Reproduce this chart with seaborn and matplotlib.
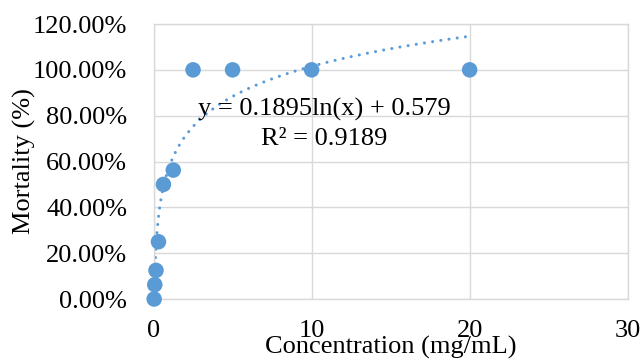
import numpy as np
import pandas as pd
import matplotlib
matplotlib.use("Agg")
import matplotlib.pyplot as plt
from matplotlib.ticker import PercentFormatter
import seaborn as sns

concentration = [0.039, 0.078, 0.156, 0.3125, 0.625, 1.25, 2.5, 5, 10, 20]
mortality = [0.0, 0.0625, 0.125, 0.25, 0.5, 0.5625, 1.0, 1.0, 1.0, 1.0]
trend_slope = 0.1895
trend_intercept = 0.579
r_squared = 0.9189
x_ticks = [0, 10, 20, 30]
y_ticks = [0, 0.2, 0.4, 0.6, 0.8, 1.0, 1.2]

df = pd.DataFrame({"Concentration": concentration, "Mortality": mortality})

# log trendline from the equation shown on the chart
trend_x = np.linspace(min(concentration), max(concentration), 400)
trend = pd.DataFrame({"x": trend_x, "y": trend_slope * np.log(trend_x) + trend_intercept})

sns.set_style("whitegrid", {"grid.color": "#D9D9D9"})
plt.rcParams["font.family"] = ["Liberation Serif", "DejaVu Serif"]
plt.rcParams["text.color"] = "black"
plt.rcParams["axes.labelcolor"] = "black"

fig = plt.figure(figsize=(6.44, 3.6), dpi=100)
ax = fig.add_axes([0.2384, 0.1694, 0.7363, 0.7639])
blue = "#5B9BD5"

sns.lineplot(data=trend, x="x", y="y", ax=ax, color=blue, linewidth=2.2,
             linestyle=(0, (0.01, 2.7)), dash_capstyle="round", zorder=2)
sns.scatterplot(data=df, x="Concentration", y="Mortality", ax=ax, color=blue,
                s=125, edgecolor="none", clip_on=False, zorder=3)

ax.set_xlim(0, 30)
ax.set_ylim(0, 1.2)
ax.set_xticks(x_ticks)
ax.set_yticks(y_ticks)
ax.yaxis.set_major_formatter(PercentFormatter(xmax=1, decimals=2))
ax.grid(True, color="#D9D9D9", linewidth=1.0)
for sp in ax.spines.values():
    sp.set_visible(True)
    sp.set_color("#D9D9D9")
    sp.set_linewidth(1.0)

ax.tick_params(axis="both", length=0, labelsize=19, colors="black")
ax.tick_params(axis="y", pad=19)
ax.tick_params(axis="x", pad=15)

ax.set_xlabel("Concentration (mg/mL)", fontsize=19, color="black")
ax.set_ylabel("Mortality (%)", fontsize=19, color="black")
ax.xaxis.set_label_coords(0.5, -0.135)
ax.yaxis.set_label_coords(-0.247, 0.5)

ax.text(10.8, 0.825, f"y = {trend_slope}ln(x) + {trend_intercept}", fontsize=19,
        ha="center", va="center", color="black")
ax.text(10.8, 0.70, f"R² = {r_squared}", fontsize=19, ha="center", va="center",
        color="black")

fig.savefig("out.png", dpi=100)
